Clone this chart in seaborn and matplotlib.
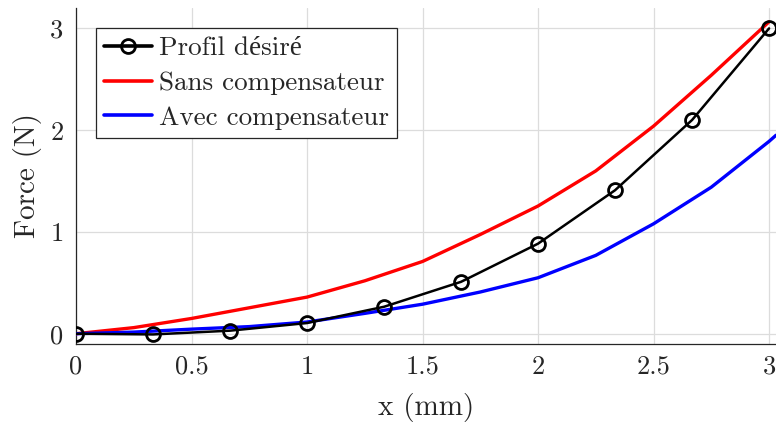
import numpy as np
import pandas as pd
import seaborn as sns
import matplotlib
matplotlib.use("Agg")
import matplotlib.pyplot as plt

# Data
x_desired = [0, 1/3, 2/3, 1, 4/3, 5/3, 2, 7/3, 8/3, 3]
f_desired = [0.0, -0.007, 0.03, 0.105, 0.265, 0.51, 0.885, 1.41, 2.10, 3.0]

x_sans = [0, 0.25, 0.5, 0.75, 1.0, 1.25, 1.5, 1.75, 2.0, 2.25, 2.5, 2.75, 3.0]
f_sans = [0.0, 0.06, 0.15, 0.255, 0.36, 0.52, 0.71, 0.975, 1.255, 1.60, 2.04, 2.54, 3.065]
x_avec = [0, 0.25, 0.5, 0.75, 1.0, 1.25, 1.5, 1.75, 2.0, 2.25, 2.5, 2.75, 3.0, 3.03]
f_avec = [0.0, 0.016, 0.045, 0.07, 0.115, 0.2, 0.29, 0.41, 0.55, 0.77, 1.08, 1.44, 1.89, 1.95]

labels = ["Profil désiré", "Sans compensateur", "Avec compensateur"]
x_ticks = [0, 0.5, 1, 1.5, 2, 2.5, 3]
x_tick_labels = ["0", "0.5", "1", "1.5", "2", "2.5", "3"]
y_ticks = [0, 1, 2, 3]
y_tick_labels = ["0", "1", "2", "3"]

sns.set_style("white")
plt.rcParams["font.family"] = ["cmr10", "Liberation Serif"]
plt.rcParams["axes.formatter.use_mathtext"] = True
plt.rcParams["mathtext.fontset"] = "cm"

fig = plt.figure(figsize=(7.76, 4.23), dpi=100)
ax = fig.add_axes([0.098, 0.187, 0.902, 0.794])

df_d = pd.DataFrame({"x": x_desired, "f": f_desired})
df_s = pd.DataFrame({"x": x_sans, "f": f_sans})
df_a = pd.DataFrame({"x": x_avec, "f": f_avec})

sns.lineplot(data=df_s, x="x", y="f", ax=ax, color="#ff0000", lw=2.4,
             label=labels[1], zorder=3)
sns.lineplot(data=df_a, x="x", y="f", ax=ax, color="#0000ff", lw=2.4,
             label=labels[2], zorder=3)
sns.lineplot(data=df_d, x="x", y="f", ax=ax, color="black", lw=1.8,
             marker="o", markersize=10, markerfacecolor="none",
             markeredgecolor="black", markeredgewidth=2.0,
             label=labels[0], zorder=4)

ax.set_xlim(0, 3.03)
ax.set_ylim(-0.1, 3.2)
ax.set_xticks(x_ticks)
ax.set_xticklabels(x_tick_labels)
ax.set_yticks(y_ticks)
ax.set_yticklabels(y_tick_labels)

ax.grid(True, color="#dcdcdc", lw=0.9)
ax.set_axisbelow(True)
for s in ["top", "right"]:
    ax.spines[s].set_visible(False)
for s in ["left", "bottom"]:
    ax.spines[s].set_color("#262626")
    ax.spines[s].set_linewidth(0.9)
ax.tick_params(axis="both", direction="in", length=5, width=0.9,
               color="#262626", labelcolor="#262626", labelsize=19, pad=8)
ax.tick_params(axis="y", pad=9)

ax.set_xlabel("x (mm)", fontsize=21, color="#262626", labelpad=10)
ax.set_ylabel("Force (N)", fontsize=21, color="#262626", labelpad=6)

handles, lbls = ax.get_legend_handles_labels()
order = [lbls.index(l) for l in labels]
leg = ax.legend([handles[i] for i in order], [lbls[i] for i in order],
                loc="upper left", bbox_to_anchor=(0.029, 0.94),
                fontsize=19.5, frameon=True, fancybox=False, framealpha=1,
                edgecolor="#262626", handlelength=1.75, handletextpad=0.25,
                borderpad=0.3, labelspacing=0.4, borderaxespad=0)
leg.get_frame().set_linewidth(0.9)
for h in leg.get_lines():
    h.set_linewidth(2.6)

fig.savefig("out.png", dpi=100)
